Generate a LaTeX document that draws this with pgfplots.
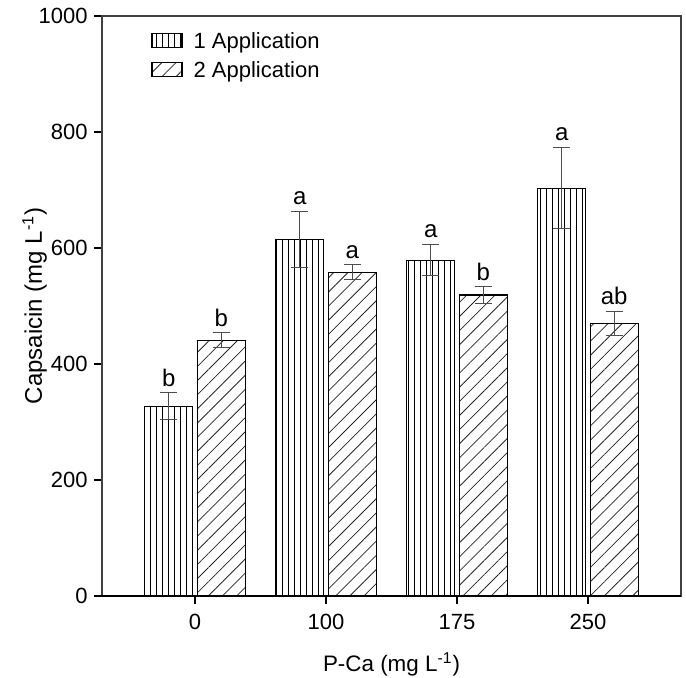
\documentclass[border=0pt]{standalone}
\usepackage{fontspec}
\setmainfont{Liberation Sans}
\usepackage{pgfplots}
\pgfplotsset{compat=1.18}
\usetikzlibrary{patterns.meta}
\begin{document}
\begin{tikzpicture}
\begin{axis}[
  scale only axis,
  width=289.5pt, height=290pt,
  xmin=-0.71, xmax=3.71,
  ymin=0, ymax=1000,
  xtick={0,1,2,3},
  xticklabels={0,100,175,250},
  ytick={0,200,400,600,800,1000},
  xtick pos=lower, ytick pos=left,
  tick align=outside,
  major tick length=4pt,
  tick style={black, line width=1pt},
  axis line style={black!75, line width=0.7pt},
  axis on top,
  extra y ticks={0},
  extra y tick labels={},
  extra y tick style={grid=major, major grid style={black, line width=1.2pt}},
  /pgf/number format/assume math mode=true,
  /pgf/number format/1000 sep={},
  font=\fontsize{11}{13.2}\selectfont,
  ticklabel style={font=\fontsize{11}{13.2}\selectfont},
  yticklabel style={inner sep=0pt, xshift=-3pt},
  xticklabel style={inner sep=0pt, yshift=-5pt},
  xlabel={P-Ca (mg L\textsuperscript{-1})},
  ylabel={Capsaicin (mg L\textsuperscript{-1})},
  every axis x label/.style={at={([yshift=-37.5pt]rel axis cs:0.5,0)}, anchor=base, font=\fontsize{11.2}{13.4}\selectfont},
  every axis y label/.style={at={([xshift=-30pt]rel axis cs:0,0.5)}, rotate=90, anchor=base, font=\fontsize{12}{14.4}\selectfont},
  legend image code/.code={\draw[#1] (0pt,-3pt) rectangle (15pt,4pt);},
  legend style={draw=none, fill=none, inner sep=0pt,
    at={([xshift=24.5pt, yshift=-6.5pt]rel axis cs:0,1)}, anchor=north west,
    row sep=2pt, column sep=4pt, nodes={inner sep=1.5pt},
    font=\fontsize{11}{13.2}\selectfont},
  legend cell align=left,
  nodes near coords style={font=\fontsize{12}{14}\selectfont, anchor=south, inner sep=2pt, yshift=1pt, text=black},
]
\addplot[ybar, bar width=24pt, bar shift=0pt, draw=black, line width=0.6pt,
  pattern={Lines[angle=90, distance=3pt, line width=0.5pt]}, pattern color=black,
  error bars/.cd, y dir=both, y explicit,
  error bar style={black!70, line width=0.5pt},
  error mark options={rotate=90, mark size=4.25pt, black!70, line width=0.5pt}]
coordinates {(-0.2,327) +- (0,23) (0.8,615) +- (0,48) (1.8,579) +- (0,27) (2.8,703) +- (0,70)};
\addlegendentry{1 Application}
\addplot[ybar, bar width=24pt, bar shift=0pt, draw=black, line width=0.6pt,
  pattern={Lines[angle=45, distance=5pt, line width=0.4pt]}, pattern color=black!85,
  error bars/.cd, y dir=both, y explicit,
  error bar style={black!70, line width=0.5pt},
  error mark options={rotate=90, mark size=4.25pt, black!70, line width=0.5pt}]
coordinates {(0.2,441) +- (0,13) (1.2,558) +- (0,13) (2.2,519) +- (0,14) (3.2,470) +- (0,21)};
\addlegendentry{2 Application}
\addplot[draw=none, mark=none, nodes near coords, point meta=explicit symbolic, forget plot]
coordinates {(-0.2,350) [b] (0.8,663) [a] (1.8,607) [a] (2.8,774) [a]};
\addplot[draw=none, mark=none, nodes near coords, point meta=explicit symbolic, forget plot]
coordinates {(0.2,454) [b] (1.2,571) [a] (2.2,533) [b] (3.2,491) [ab]};
\coordinate (SW) at (rel axis cs:0,0);
\coordinate (NE) at (rel axis cs:1,1);
\end{axis}
\pgfresetboundingbox
\path[use as bounding box] ([shift={(-51pt,-40.5pt)}]SW) rectangle ([shift={(2.5pt,8pt)}]NE);
\end{tikzpicture}
\end{document}
